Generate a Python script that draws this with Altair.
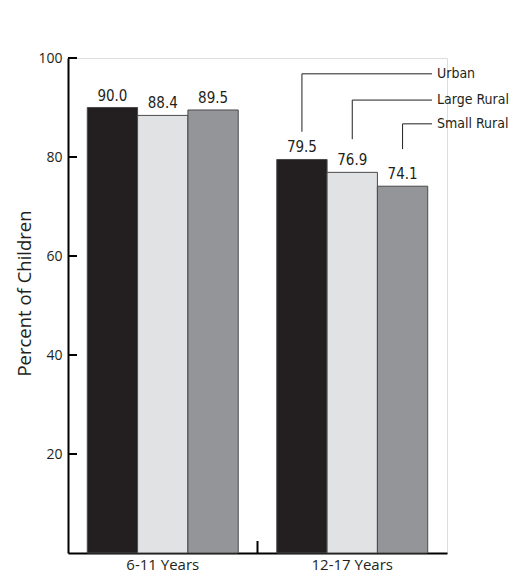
import altair as alt
import pandas as pd

groups = ["6-11 Years", "12-17 Years"]
series = ["Urban", "Large Rural", "Small Rural"]
values_6_11 = [90.0, 88.4, 89.5]
values_12_17 = [79.5, 76.9, 74.1]
colors = ["#231f20", "#e1e2e4", "#939598"]
y_ticks = [20, 40, 60, 80, 100]

# leader-line annotation levels (in data units)
label_level = [96.8, 91.5, 86.7]
leader_bottom = [85.1, 83.6, 81.6]

rows = []
for g, vals in zip(groups, [values_6_11, values_12_17]):
    for s, v in zip(series, vals):
        rows.append({"group": g, "series": s, "value": v, "label": f"{v:.1f}"})
df = pd.DataFrame(rows)

lead = pd.DataFrame({
    "group": [groups[1]] * 3,
    "series": series,
    "top": label_level,
    "bottom": leader_bottom,
})
ticks_df = pd.DataFrame({"t": y_ticks})
mid_df = pd.DataFrame({"group": [groups[1]]})

FONT = "'Liberation Sans Narrow', 'DejaVu Sans Condensed', 'Open Sans', sans-serif"
AXFONT = "'Open Sans', 'Noto Sans', sans-serif"

x_enc = alt.X("group:N", sort=groups,
              scale=alt.Scale(paddingInner=0, paddingOuter=0),
              axis=alt.Axis(title=None, labelAngle=0, ticks=False, domainWidth=2,
                            domainColor="black", labelPadding=4, labelFontSize=15,
                            labelFont=AXFONT, labelColor="#231f20"))
xoff = alt.XOffset("series:N", sort=series,
                   scale=alt.Scale(paddingInner=0, paddingOuter=0.383))
y_scale = alt.Scale(domain=[0, 100], nice=False)

bars = alt.Chart(df).mark_bar(stroke="#4a4a4a", strokeWidth=1).encode(
    x=x_enc,
    xOffset=xoff,
    y=alt.Y("value:Q", scale=y_scale,
            axis=alt.Axis(values=y_ticks, ticks=False, grid=False, domainWidth=2,
                          domainColor="black", labelPadding=6, labelFontSize=14,
                          labelFont=AXFONT, labelColor="#231f20",
                          title="Percent of Children", titleFontSize=18.5,
                          titleFontWeight="normal", titleFont=AXFONT,
                          titleColor="#231f20", titlePadding=3, titleY=235)),
    color=alt.Color("series:N", sort=series,
                    scale=alt.Scale(domain=series, range=colors), legend=None),
)

labels = alt.Chart(df).mark_text(baseline="bottom", dy=-4, fontSize=15,
                                 font=FONT, color="#231f20").encode(
    x=alt.X("group:N", sort=groups), xOffset=xoff,
    y=alt.Y("value:Q", scale=y_scale), text="label:N",
)

yticks = alt.Chart(ticks_df).mark_rule(color="black", strokeWidth=2).encode(
    y=alt.Y("t:Q", scale=y_scale), x=alt.value(0), x2=alt.value(9),
)

midtick = alt.Chart(mid_df).mark_rule(color="black", strokeWidth=2).encode(
    x=alt.X("group:N", sort=groups, bandPosition=0),
    y=alt.value(495), y2=alt.value(483),
)

lead_v = alt.Chart(lead).mark_rule(color="#231f20", strokeWidth=1).encode(
    x=alt.X("group:N", sort=groups), xOffset=xoff,
    y=alt.Y("bottom:Q", scale=y_scale), y2="top:Q",
)
lead_h = alt.Chart(lead).mark_rule(color="#231f20", strokeWidth=1).encode(
    x=alt.X("group:N", sort=groups), xOffset=xoff, x2=alt.value(364),
    y=alt.Y("top:Q", scale=y_scale),
)
lead_t = alt.Chart(lead).mark_text(align="left", baseline="middle", fontSize=14,
                                   font=FONT, color="#231f20").encode(
    x=alt.value(369), y=alt.Y("top:Q", scale=y_scale), text="series:N",
)

chart = alt.layer(bars, labels, yticks, midtick, lead_v, lead_h, lead_t).properties(
    width=379, height=495,
    autosize=alt.AutoSizeParams(type="none"),
    padding={"left": 60, "top": 50, "right": 68, "bottom": 22},
).configure_view(stroke=None).configure(background="white")

chart.save("out.html", embed_options={"renderer": "svg", "actions": False})
